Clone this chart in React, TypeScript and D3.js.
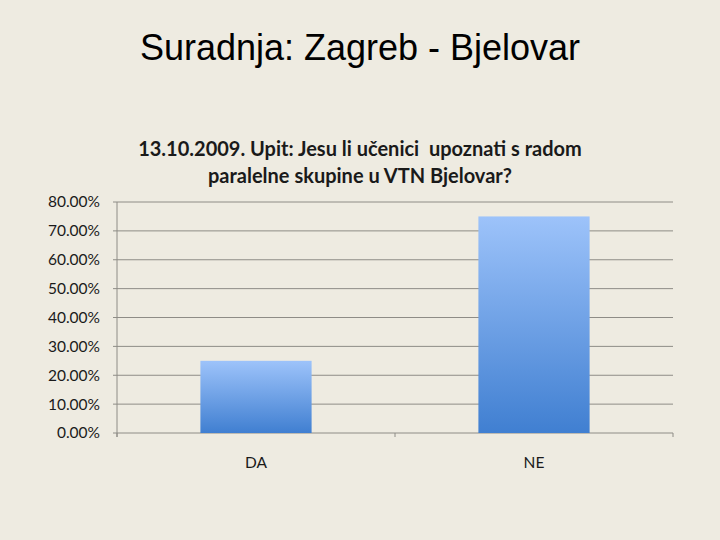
import React, { useEffect, useRef } from 'react';
import * as d3 from 'd3';

const categories = ['DA', 'NE'];
const values = [0.25, 0.75];
const yTicks = [0, 0.1, 0.2, 0.3, 0.4, 0.5, 0.6, 0.7, 0.8];
const slideTitle = 'Suradnja: Zagreb - Bjelovar';
const chartTitle = ['13.10.2009. Upit: Jesu li učenici  upoznati s radom', 'paralelne skupine u VTN Bjelovar?'];

const width = 720;
const height = 540;
const margin = { top: 202, right: 47, bottom: 107, left: 117 };

const App: React.FC = () => {
  const svgRef = useRef<SVGSVGElement>(null);

  useEffect(() => {
    const svg = d3.select(svgRef.current);
    svg.selectAll('*').remove();

    const innerWidth = width - margin.left - margin.right;
    const innerHeight = height - margin.top - margin.bottom;

    // background
    svg.append('rect')
      .attr('width', width)
      .attr('height', height)
      .attr('fill', '#eeebe1');

    // gradient for the bars
    const grad = svg.append('defs').append('linearGradient')
      .attr('id', 'barGrad')
      .attr('x1', 0).attr('y1', 0).attr('x2', 0).attr('y2', 1);
    grad.append('stop').attr('offset', '0%').attr('stop-color', '#9dc3fa');
    grad.append('stop').attr('offset', '100%').attr('stop-color', '#407fd1');

    // slide title
    svg.append('text')
      .attr('x', 360)
      .attr('y', 60)
      .attr('text-anchor', 'middle')
      .style('font-family', '"Liberation Sans", Arial, sans-serif')
      .style('font-size', '36px')
      .style('fill', '#000')
      .text(slideTitle);

    // chart title
    chartTitle.forEach((line, i) => {
      svg.append('text')
        .attr('x', 360)
        .attr('y', 156 + i * 27)
        .attr('text-anchor', 'middle')
        .attr('xml:space', 'preserve')
        .style('white-space', 'pre')
        .style('font-family', 'Lato, "Open Sans", sans-serif')
        .style('font-weight', 'bold')
        .style('font-size', '20px')
        .style('fill', '#1a1a1a')
        .text(line);
    });

    const x = d3.scaleBand()
      .domain(categories)
      .range([0, innerWidth])
      .paddingInner(0.6)
      .paddingOuter(0.3);

    const y = d3.scaleLinear()
      .domain([0, 0.8])
      .range([innerHeight, 0]);

    const g = svg.append('g')
      .attr('transform', `translate(${margin.left},${margin.top})`);

    // grid lines
    g.append('g')
      .selectAll('line')
      .data(yTicks)
      .enter().append('line')
      .attr('x1', -4)
      .attr('x2', innerWidth)
      .attr('y1', d => y(d))
      .attr('y2', d => y(d))
      .style('stroke', '#8e8c86')
      .style('stroke-width', 1);

    // y axis line
    g.append('line')
      .attr('x1', 0).attr('x2', 0)
      .attr('y1', 0).attr('y2', innerHeight + 4)
      .style('stroke', '#8e8c86');

    // x category boundary ticks
    const bounds = [0, innerWidth / 2, innerWidth];
    g.append('g')
      .selectAll('line')
      .data(bounds)
      .enter().append('line')
      .attr('x1', d => d).attr('x2', d => d)
      .attr('y1', innerHeight).attr('y2', innerHeight + 4)
      .style('stroke', '#8e8c86');

    // y tick labels
    g.append('g')
      .selectAll('text')
      .data(yTicks)
      .enter().append('text')
      .attr('x', -17)
      .attr('y', d => y(d))
      .attr('dy', '0.35em')
      .attr('text-anchor', 'end')
      .style('font-family', 'Lato, "Open Sans", sans-serif')
      .style('font-size', '15.5px')
      .style('fill', '#1a1a1a')
      .text(d => d3.format('.2%')(d));

    // bars
    g.append('g')
      .selectAll('rect')
      .data(values)
      .enter().append('rect')
      .attr('x', (_, i) => x(categories[i])!)
      .attr('y', d => y(d))
      .attr('width', x.bandwidth())
      .attr('height', d => innerHeight - y(d))
      .style('fill', 'url(#barGrad)');

    // category labels
    g.append('g')
      .selectAll('text')
      .data(categories)
      .enter().append('text')
      .attr('x', d => x(d)! + x.bandwidth() / 2)
      .attr('y', innerHeight + 35)
      .attr('text-anchor', 'middle')
      .style('font-family', 'Lato, "Open Sans", sans-serif')
      .style('font-size', '15.5px')
      .style('fill', '#1a1a1a')
      .text(d => d);
  }, []);

  return (
    <div style={{ position: 'absolute', top: 0, left: 0 }}>
      <svg ref={svgRef} width={width} height={height} style={{ display: 'block' }}></svg>
    </div>
  );
};

export default App;
